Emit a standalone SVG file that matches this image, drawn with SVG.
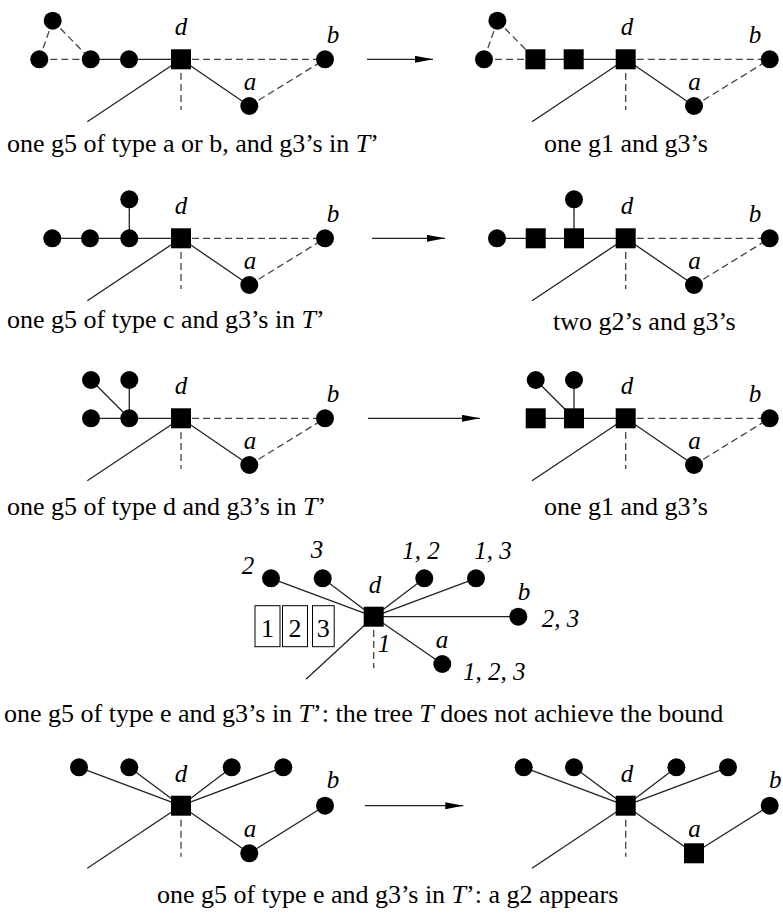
<svg xmlns="http://www.w3.org/2000/svg" width="783" height="916" viewBox="0 0 783 916">
<style>
text{font-family:"Liberation Serif","Times New Roman",serif;fill:#000}
.cap{font-size:26px}
.lbl{font-size:25px;font-style:italic}
.box{font-size:26px}
.s{stroke:#222;stroke-width:1.3;fill:none}
.d{stroke:#444;stroke-width:1.3;fill:none;stroke-dasharray:7 4}
.ar{stroke:#222;stroke-width:1.3;fill:none;marker-end:url(#ah)}
.n{fill:#000}
.bx{fill:#fff;stroke:#000;stroke-width:1}
</style>
<defs>
<marker id="ah" markerUnits="userSpaceOnUse" markerWidth="19" markerHeight="8" refX="18" refY="3.5" orient="auto">
<path d="M0,0 L18,3.5 L0,7 Z" fill="#000"/>
</marker>
</defs>

<g id="connectors">
<!-- panel 1 left -->
<line class="d" x1="52.7" y1="20.7" x2="39.3" y2="59.3"/>
<line class="d" x1="52.7" y1="20.7" x2="90.7" y2="59.3"/>
<line class="d" x1="39.3" y1="59.3" x2="90.7" y2="59.3"/>
<line class="s" x1="90.7" y1="59.3" x2="181" y2="59.3"/>
<line class="d" x1="181" y1="59.3" x2="325" y2="59.3"/>
<line class="s" x1="181" y1="59.3" x2="249.3" y2="106"/>
<line class="d" x1="249.3" y1="106" x2="325" y2="59.3"/>
<line class="s" x1="181" y1="59.3" x2="87.3" y2="121.7"/>
<line class="d" x1="181" y1="73" x2="181" y2="110"/>
<!-- panel 1 right -->
<line class="d" x1="497.4" y1="20.7" x2="484" y2="59.3"/>
<line class="d" x1="497.4" y1="20.7" x2="535.4" y2="59.3"/>
<line class="d" x1="484" y1="59.3" x2="535.4" y2="59.3"/>
<line class="s" x1="535.4" y1="59.3" x2="625.7" y2="59.3"/>
<line class="d" x1="625.7" y1="59.3" x2="769.7" y2="59.3"/>
<line class="s" x1="625.7" y1="59.3" x2="694" y2="106"/>
<line class="d" x1="694" y1="106" x2="769.7" y2="59.3"/>
<line class="s" x1="625.7" y1="59.3" x2="532" y2="121.7"/>
<line class="d" x1="625.7" y1="73" x2="625.7" y2="110"/>
<line class="ar" x1="367" y1="59.3" x2="433" y2="59.3"/>

<!-- panel 2 left -->
<line class="s" x1="52.3" y1="238.3" x2="181" y2="238.3"/>
<line class="s" x1="129.3" y1="199.3" x2="129.3" y2="238.3"/>
<line class="d" x1="181" y1="238.3" x2="325" y2="238.3"/>
<line class="s" x1="181" y1="238.3" x2="249.3" y2="285"/>
<line class="d" x1="249.3" y1="285" x2="325" y2="238.3"/>
<line class="s" x1="181" y1="238.3" x2="87.3" y2="300.7"/>
<line class="d" x1="181" y1="252" x2="181" y2="289"/>
<!-- panel 2 right -->
<line class="s" x1="497" y1="238.3" x2="625.7" y2="238.3"/>
<line class="s" x1="574" y1="199.3" x2="574" y2="238.3"/>
<line class="d" x1="625.7" y1="238.3" x2="769.7" y2="238.3"/>
<line class="s" x1="625.7" y1="238.3" x2="694" y2="285"/>
<line class="d" x1="694" y1="285" x2="769.7" y2="238.3"/>
<line class="s" x1="625.7" y1="238.3" x2="532" y2="300.7"/>
<line class="d" x1="625.7" y1="252" x2="625.7" y2="289"/>
<line class="ar" x1="372" y1="238.3" x2="445" y2="238.3"/>

<!-- panel 3 left -->
<line class="s" x1="91" y1="418.3" x2="181" y2="418.3"/>
<line class="s" x1="91" y1="380" x2="129.3" y2="418.3"/>
<line class="s" x1="129.3" y1="380" x2="129.3" y2="418.3"/>
<line class="d" x1="181" y1="418.3" x2="325" y2="418.3"/>
<line class="s" x1="181" y1="418.3" x2="249.3" y2="465"/>
<line class="d" x1="249.3" y1="465" x2="325" y2="418.3"/>
<line class="s" x1="181" y1="418.3" x2="87.3" y2="480.7"/>
<line class="d" x1="181" y1="432" x2="181" y2="469"/>
<!-- panel 3 right -->
<line class="s" x1="535.7" y1="418.3" x2="625.7" y2="418.3"/>
<line class="s" x1="535.7" y1="380" x2="574" y2="418.3"/>
<line class="s" x1="574" y1="380" x2="574" y2="418.3"/>
<line class="d" x1="625.7" y1="418.3" x2="769.7" y2="418.3"/>
<line class="s" x1="625.7" y1="418.3" x2="694" y2="465"/>
<line class="d" x1="694" y1="465" x2="769.7" y2="418.3"/>
<line class="s" x1="625.7" y1="418.3" x2="532" y2="480.7"/>
<line class="d" x1="625.7" y1="432" x2="625.7" y2="469"/>
<line class="ar" x1="368" y1="418.3" x2="480" y2="418.3"/>

<!-- panel 4 -->
<line class="s" x1="373.7" y1="616.7" x2="271" y2="578.3"/>
<line class="s" x1="373.7" y1="616.7" x2="322.7" y2="578.3"/>
<line class="s" x1="373.7" y1="616.7" x2="424.3" y2="578.3"/>
<line class="s" x1="373.7" y1="616.7" x2="476" y2="578.3"/>
<line class="s" x1="373.7" y1="616.7" x2="518.3" y2="616.7"/>
<line class="s" x1="373.7" y1="616.7" x2="442.3" y2="664"/>
<line class="s" x1="373.7" y1="616.7" x2="306" y2="679.3"/>
<line class="d" x1="373.7" y1="630" x2="373.7" y2="668.3"/>

<!-- panel 5 left -->
<line class="s" x1="181" y1="805.7" x2="79" y2="767.3"/>
<line class="s" x1="181" y1="805.7" x2="129.3" y2="767.3"/>
<line class="s" x1="181" y1="805.7" x2="231.7" y2="767.3"/>
<line class="s" x1="181" y1="805.7" x2="283.3" y2="767.3"/>
<line class="s" x1="181" y1="805.7" x2="249.3" y2="853.3"/>
<line class="s" x1="249.3" y1="853.3" x2="325" y2="805.7"/>
<line class="s" x1="181" y1="805.7" x2="87.3" y2="868.3"/>
<line class="d" x1="181" y1="819.7" x2="181" y2="856.7"/>
<!-- panel 5 right -->
<line class="s" x1="625.7" y1="805.7" x2="523.7" y2="767.3"/>
<line class="s" x1="625.7" y1="805.7" x2="574" y2="767.3"/>
<line class="s" x1="625.7" y1="805.7" x2="676.4" y2="767.3"/>
<line class="s" x1="625.7" y1="805.7" x2="728" y2="767.3"/>
<line class="s" x1="625.7" y1="805.7" x2="694" y2="853.3"/>
<line class="s" x1="694" y1="853.3" x2="769.7" y2="805.7"/>
<line class="s" x1="625.7" y1="805.7" x2="532" y2="868.3"/>
<line class="d" x1="625.7" y1="819.7" x2="625.7" y2="856.7"/>
<line class="ar" x1="365" y1="805.7" x2="463.3" y2="805.7"/>
</g>

<!-- ===== Panel 1 left ===== -->
<g id="p1l-top"><circle class="n" cx="52.7" cy="20.7" r="9"/></g>
<g id="p1l-c1"><circle class="n" cx="39.3" cy="59.3" r="9"/></g>
<g id="p1l-c2"><circle class="n" cx="90.7" cy="59.3" r="9"/></g>
<g id="p1l-c3"><circle class="n" cx="129" cy="59.3" r="9"/></g>
<g id="p1l-d"><rect class="n" x="171" y="49.3" width="20" height="20"/><text class="lbl" x="181" y="35" text-anchor="middle">d</text></g>
<g id="p1l-b"><circle class="n" cx="325" cy="59.3" r="9"/><text class="lbl" x="333" y="43" text-anchor="middle">b</text></g>
<g id="p1l-a"><circle class="n" cx="249.3" cy="106" r="9"/><text class="lbl" x="250" y="90" text-anchor="middle">a</text></g>
<text class="cap" x="7" y="152">one g5 of type a or b, and g3’s in <tspan font-style="italic">T</tspan>’</text>

<!-- ===== Panel 1 right ===== -->
<g id="p1r-top"><circle class="n" cx="497.4" cy="20.7" r="9"/></g>
<g id="p1r-c1"><circle class="n" cx="484" cy="59.3" r="9"/></g>
<g id="p1r-s1"><rect class="n" x="525.4" y="49.3" width="20" height="20"/></g>
<g id="p1r-s2"><rect class="n" x="563.7" y="49.3" width="20" height="20"/></g>
<g id="p1r-d"><rect class="n" x="615.7" y="49.3" width="20" height="20"/><text class="lbl" x="627" y="35" text-anchor="middle">d</text></g>
<g id="p1r-b"><circle class="n" cx="769.7" cy="59.3" r="9"/><text class="lbl" x="755" y="43" text-anchor="middle">b</text></g>
<g id="p1r-a"><circle class="n" cx="694" cy="106" r="9"/><text class="lbl" x="694.5" y="90" text-anchor="middle">a</text></g>
<text class="cap" x="626" y="152" text-anchor="middle">one g1 and g3’s</text>

<!-- ===== Panel 2 left ===== -->
<g id="p2l-c1"><circle class="n" cx="52.3" cy="238.3" r="9"/></g>
<g id="p2l-c2"><circle class="n" cx="90" cy="238.3" r="9"/></g>
<g id="p2l-c3"><circle class="n" cx="129.3" cy="238.3" r="9"/></g>
<g id="p2l-top"><circle class="n" cx="129.3" cy="199.3" r="9"/></g>
<g id="p2l-d"><rect class="n" x="171" y="228.3" width="20" height="20"/><text class="lbl" x="181" y="214" text-anchor="middle">d</text></g>
<g id="p2l-b"><circle class="n" cx="325" cy="238.3" r="9"/><text class="lbl" x="333" y="222" text-anchor="middle">b</text></g>
<g id="p2l-a"><circle class="n" cx="249.3" cy="285" r="9"/><text class="lbl" x="250" y="269" text-anchor="middle">a</text></g>
<text class="cap" x="7" y="328">one g5 of type c and g3’s in <tspan font-style="italic">T</tspan>’</text>

<!-- ===== Panel 2 right ===== -->
<g id="p2r-c1"><circle class="n" cx="497" cy="238.3" r="9"/></g>
<g id="p2r-s1"><rect class="n" x="525.7" y="228.3" width="20" height="20"/></g>
<g id="p2r-s2"><rect class="n" x="564" y="228.3" width="20" height="20"/></g>
<g id="p2r-top"><circle class="n" cx="574" cy="199.3" r="9"/></g>
<g id="p2r-d"><rect class="n" x="615.7" y="228.3" width="20" height="20"/><text class="lbl" x="627" y="214" text-anchor="middle">d</text></g>
<g id="p2r-b"><circle class="n" cx="769.7" cy="238.3" r="9"/><text class="lbl" x="755" y="222" text-anchor="middle">b</text></g>
<g id="p2r-a"><circle class="n" cx="694" cy="285" r="9"/><text class="lbl" x="694.5" y="269" text-anchor="middle">a</text></g>
<text class="cap" x="553" y="330">two g2’s and g3’s</text>

<!-- ===== Panel 3 left ===== -->
<g id="p3l-c1"><circle class="n" cx="91" cy="418.3" r="9"/></g>
<g id="p3l-c2"><circle class="n" cx="129.3" cy="418.3" r="9"/></g>
<g id="p3l-t1"><circle class="n" cx="91" cy="380" r="9"/></g>
<g id="p3l-t2"><circle class="n" cx="129.3" cy="380" r="9"/></g>
<g id="p3l-d"><rect class="n" x="171" y="408.3" width="20" height="20"/><text class="lbl" x="181" y="394" text-anchor="middle">d</text></g>
<g id="p3l-b"><circle class="n" cx="325" cy="418.3" r="9"/><text class="lbl" x="333" y="402" text-anchor="middle">b</text></g>
<g id="p3l-a"><circle class="n" cx="249.3" cy="465" r="9"/><text class="lbl" x="250" y="449" text-anchor="middle">a</text></g>
<text class="cap" x="7" y="515">one g5 of type d and g3’s in <tspan font-style="italic">T</tspan>’</text>

<!-- ===== Panel 3 right ===== -->
<g id="p3r-s1"><rect class="n" x="525.7" y="408.3" width="20" height="20"/></g>
<g id="p3r-s2"><rect class="n" x="564" y="408.3" width="20" height="20"/></g>
<g id="p3r-t1"><circle class="n" cx="535.7" cy="380" r="9"/></g>
<g id="p3r-t2"><circle class="n" cx="574" cy="380" r="9"/></g>
<g id="p3r-d"><rect class="n" x="615.7" y="408.3" width="20" height="20"/><text class="lbl" x="627" y="394" text-anchor="middle">d</text></g>
<g id="p3r-b"><circle class="n" cx="769.7" cy="418.3" r="9"/><text class="lbl" x="755" y="402" text-anchor="middle">b</text></g>
<g id="p3r-a"><circle class="n" cx="694" cy="465" r="9"/><text class="lbl" x="694.5" y="449" text-anchor="middle">a</text></g>
<text class="cap" x="626" y="515" text-anchor="middle">one g1 and g3’s</text>

<!-- ===== Panel 4 ===== -->
<g id="p4-boxes">
<rect class="bx" x="255" y="605.7" width="25" height="41"/><text class="box" x="267.5" y="637" text-anchor="middle">1</text>
<rect class="bx" x="282.5" y="605.7" width="25" height="41"/><text class="box" x="295" y="637" text-anchor="middle">2</text>
<rect class="bx" x="312.5" y="605.7" width="21.7" height="41"/><text class="box" x="323.3" y="637" text-anchor="middle">3</text>
</g>
<g id="p4-n2"><circle class="n" cx="271" cy="578.3" r="9"/><text class="lbl" x="248" y="574" text-anchor="middle">2</text></g>
<g id="p4-n3"><circle class="n" cx="322.7" cy="578.3" r="9"/><text class="lbl" x="317" y="558" text-anchor="middle">3</text></g>
<g id="p4-n12"><circle class="n" cx="424.3" cy="578.3" r="9"/><text class="lbl" x="421" y="559" text-anchor="middle">1, 2</text></g>
<g id="p4-n13"><circle class="n" cx="476" cy="578.3" r="9"/><text class="lbl" x="493" y="559" text-anchor="middle">1, 3</text></g>
<g id="p4-d"><rect class="n" x="363.7" y="606.7" width="20" height="20"/><text class="lbl" x="375" y="593" text-anchor="middle">d</text><text class="lbl" x="384" y="652" text-anchor="middle">1</text></g>
<g id="p4-b"><circle class="n" cx="518.3" cy="616.7" r="9"/><text class="lbl" x="524" y="600" text-anchor="middle">b</text><text class="lbl" x="541.7" y="627">2, 3</text></g>
<g id="p4-a"><circle class="n" cx="442.3" cy="664" r="9"/><text class="lbl" x="442" y="648" text-anchor="middle">a</text><text class="lbl" x="463" y="680">1, 2, 3</text></g>
<text class="cap" x="4" y="722">one g5 of type e and g3’s in <tspan font-style="italic">T</tspan>’: the tree  <tspan font-style="italic">T</tspan> does not achieve the bound</text>

<!-- ===== Panel 5 left ===== -->
<g id="p5l-t1"><circle class="n" cx="79" cy="767.3" r="9"/></g>
<g id="p5l-t2"><circle class="n" cx="129.3" cy="767.3" r="9"/></g>
<g id="p5l-t3"><circle class="n" cx="231.7" cy="767.3" r="9"/></g>
<g id="p5l-t4"><circle class="n" cx="283.3" cy="767.3" r="9"/></g>
<g id="p5l-d"><rect class="n" x="171" y="795.7" width="20" height="20"/><text class="lbl" x="181" y="782" text-anchor="middle">d</text></g>
<g id="p5l-b"><circle class="n" cx="325" cy="805.7" r="9"/><text class="lbl" x="333" y="788" text-anchor="middle">b</text></g>
<g id="p5l-a"><circle class="n" cx="249.3" cy="853.3" r="9"/><text class="lbl" x="250" y="837" text-anchor="middle">a</text></g>

<!-- ===== Panel 5 right ===== -->
<g id="p5r-t1"><circle class="n" cx="523.7" cy="767.3" r="9"/></g>
<g id="p5r-t2"><circle class="n" cx="574" cy="767.3" r="9"/></g>
<g id="p5r-t3"><circle class="n" cx="676.4" cy="767.3" r="9"/></g>
<g id="p5r-t4"><circle class="n" cx="728" cy="767.3" r="9"/></g>
<g id="p5r-d"><rect class="n" x="615.7" y="795.7" width="20" height="20"/><text class="lbl" x="627" y="782" text-anchor="middle">d</text></g>
<g id="p5r-b"><circle class="n" cx="769.7" cy="805.7" r="9"/><text class="lbl" x="769" y="788">b</text></g>
<g id="p5r-a"><rect class="n" x="684" y="843.3" width="20" height="20"/><text class="lbl" x="694.5" y="837" text-anchor="middle">a</text></g>
<text class="cap" x="157" y="903">one g5 of type e and g3’s in <tspan font-style="italic">T</tspan>’:  a g2 appears</text>
</svg>
